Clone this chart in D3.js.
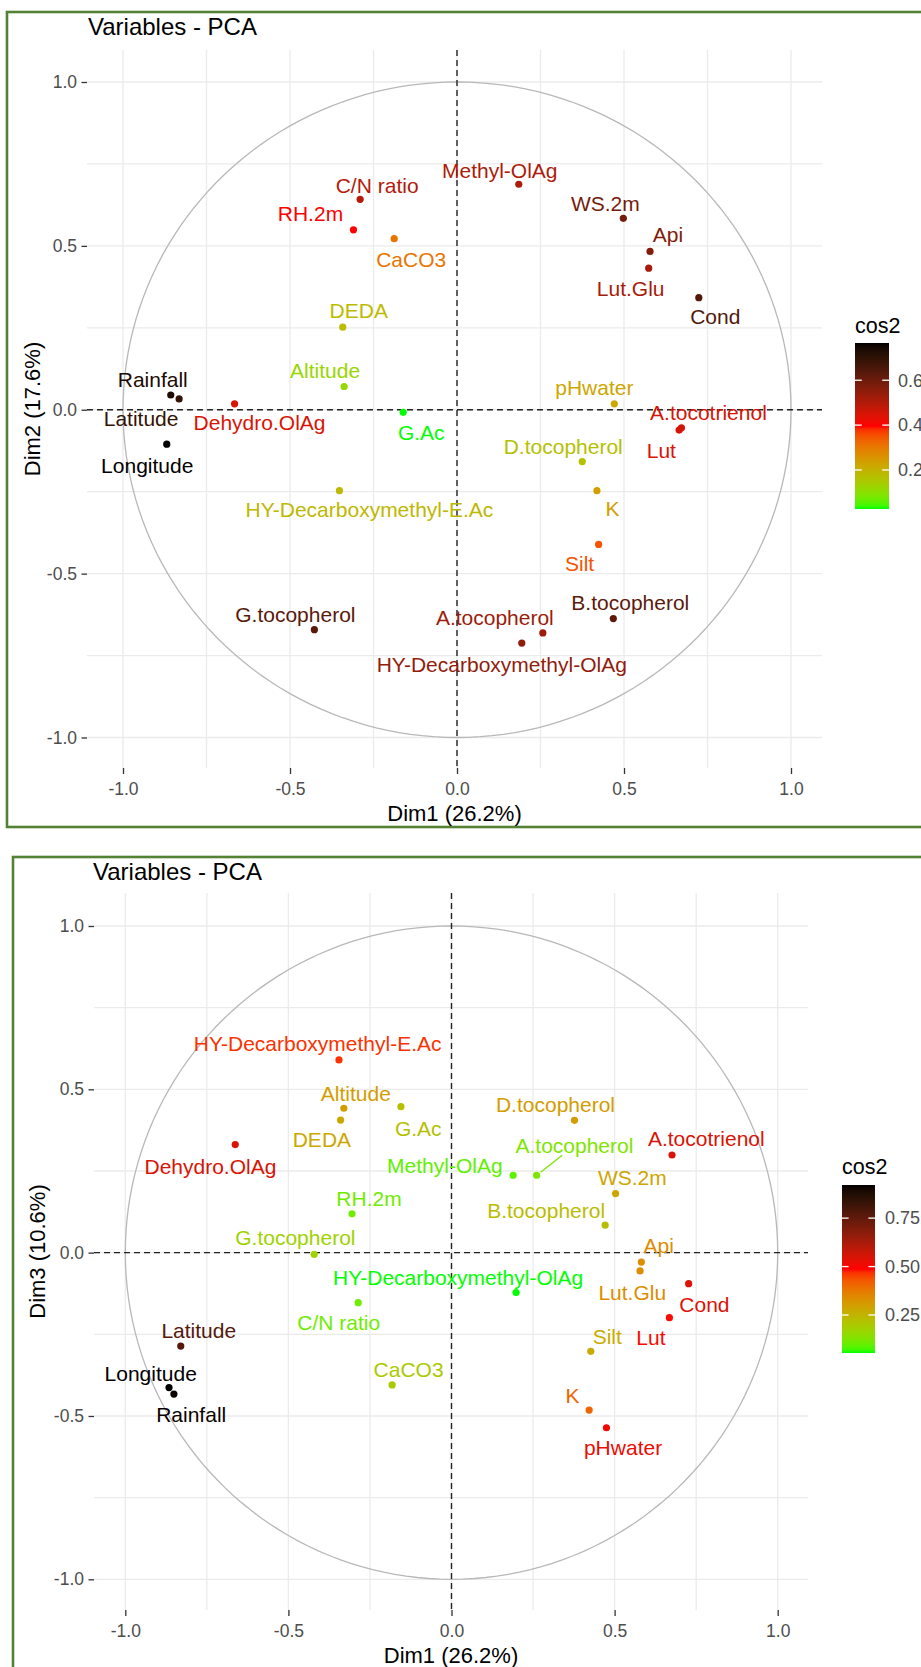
<!DOCTYPE html>
<html>
<head>
<meta charset="utf-8">
<script src="https://cdn.jsdelivr.net/npm/d3@7"></script>
<style>
  html, body { margin: 0; padding: 0; background: #fff; }
  svg { display: block; }
  text { font-family: "Liberation Sans", Arial, Helvetica, sans-serif; }
</style>
</head>
<body>
<svg id="chart" width="921" height="1667"></svg>
<script>
// ---------------- DATA ----------------
const variables = ["C/N ratio","RH.2m","CaCO3","DEDA","Altitude","Rainfall","Latitude","Dehydro.OlAg","G.Ac","Longitude",
  "HY-Decarboxymethyl-E.Ac","G.tocopherol","A.tocopherol","HY-Decarboxymethyl-OlAg","B.tocopherol","Silt","K","D.tocopherol",
  "Lut","A.tocotrienol","pHwater","Cond","Lut.Glu","Api","WS.2m","Methyl-OlAg"];

// Panel 1: Dim1 vs Dim2
const dim1_p1 = [-0.290,-0.310,-0.188,-0.342,-0.338,-0.857,-0.832,-0.666,-0.161,-0.869,
  -0.352,-0.427,0.257,0.194,0.468,0.424,0.419,0.375,0.665,0.672,0.471,0.724,0.574,0.578,0.498,0.185];
const dim2_p1 = [0.642,0.549,0.522,0.252,0.071,0.045,0.033,0.018,-0.008,-0.105,
  -0.247,-0.671,-0.681,-0.712,-0.637,-0.411,-0.247,-0.158,-0.062,-0.055,0.018,0.342,0.432,0.483,0.584,0.688];
const cos2_p1 = [0.496,0.397,0.307,0.180,0.119,0.736,0.693,0.444,0.026,0.766,
  0.185,0.632,0.530,0.545,0.625,0.349,0.237,0.166,0.446,0.455,0.222,0.641,0.516,0.567,0.589,0.507];

// Panel 2: Dim1 vs Dim3
const dim1_p2 = [-0.286,-0.305,-0.182,-0.340,-0.330,-0.851,-0.830,-0.663,-0.155,-0.866,
  -0.345,-0.421,0.261,0.198,0.471,0.427,0.422,0.377,0.668,0.676,0.475,0.727,0.578,0.582,0.503,0.189];
const dim3_p2 = [-0.153,0.119,-0.405,0.406,0.442,-0.433,-0.286,0.331,0.447,-0.413,
  0.590,-0.005,0.237,-0.122,0.084,-0.302,-0.482,0.405,-0.199,0.299,-0.536,-0.095,-0.056,-0.029,0.181,0.237];
const cos2_p2 = [0.105,0.107,0.197,0.281,0.304,0.912,0.771,0.549,0.224,0.921,
  0.467,0.177,0.124,0.054,0.229,0.273,0.410,0.306,0.486,0.546,0.513,0.538,0.337,0.339,0.286,0.092];

// Axis ticks / labels
const axisTicks = [-1, -0.5, 0, 0.5, 1];
const axisTickLabels = ["-1.0","-0.5","0.0","0.5","1.0"];
const gridBreaks = [-1,-0.75,-0.5,-0.25,0,0.25,0.5,0.75,1];
const legendTicks_p1 = [0.2, 0.4, 0.6];
const legendTickLabels_p1 = ["0.2","0.4","0.6"];
const legendTicks_p2 = [0.25, 0.5, 0.75];
const legendTickLabels_p2 = ["0.25","0.50","0.75"];
const gradientCols = ["#00FF00", "#FF0000", "#000000"];

// ---------------- LAYOUT (label repel offsets in px, not data) ----------------
const labelNudge_p1 = [[17,-14],[-43,-16],[17,21],[16,-17],[-19,-16],[-18,-15],[-38,20],[25,19],[18,20],[-19.5,21],
  [30,19],[-19,-15],[-48,-15],[-20,22],[17,-16],[-19,19],[15.5,18],[-19,-15],[-17.8,20.7],[27,-15.3],
  [-20,-16],[16.5,19],[-18,20],[18,-17],[-18,-15],[-19,-14]];
const labelNudge_p2 = [[-19.5,20],[17,-15],[16.5,-15],[-18.7,20],[12,-15],[17.3,21],[18,-15.7],[-24.8,22],[17.3,21.7],[-18.3,-14.3],
  [-21.3,-16.7],[-18.8,-16.7],[37.8,-29.3],[-58,-15],[-59,-15],[16.5,-14.7],[-16.6,-14],[-19,-16],[-18.5,20],[34.3,-16.7],
  [16.6,20],[15.8,20.7],[-7.8,21.6],[17.3,-16],[16.8,-16.3],[-68.3,-9.3]];
const segmentFlags_p2 = variables.map(v => v === "A.tocopherol");

const panels = [
  { frame: {x:7, y:12, w:940, h:815}, title: "Variables - PCA", titleX: 88, titleY: 27,
    xRange: [123, 791], yRange: [737.5, 82], panel: {x0:87, x1:822, y0:50, y1:768},
    xs: dim1_p1, ys: dim2_p1, cos2: cos2_p1, nudge: labelNudge_p1, seg: variables.map(()=>false),
    xTitle: "Dim1 (26.2%)", yTitle: "Dim2 (17.6%)", xTitleY: 813, yTitleX: 32, tickLabelY: 789,
    legend: {x:855, y0:343, y1:509, w:34, titleY:325, labelX:898, ticks: legendTicks_p1, labels: legendTickLabels_p1} },
  { frame: {x:13, y:857, w:940, h:830}, title: "Variables - PCA", titleX: 93, titleY: 872,
    xRange: [125.3, 777.7], yRange: [1579.3, 926], panel: {x0:94, x1:808, y0:893, y1:1610},
    xs: dim1_p2, ys: dim3_p2, cos2: cos2_p2, nudge: labelNudge_p2, seg: segmentFlags_p2,
    xTitle: "Dim1 (26.2%)", yTitle: "Dim3 (10.6%)", xTitleY: 1655, yTitleX: 37, tickLabelY: 1630.5,
    legend: {x:842, y0:1185, y1:1353, w:33, titleY:1166, labelX:885, ticks: legendTicks_p2, labels: legendTickLabels_p2} }
];

const svg = d3.select("#chart");
const defs = svg.append("defs");

panels.forEach((P, pi) => {
  const g = svg.append("g");
  // frame
  g.append("rect").attr("x", P.frame.x).attr("y", P.frame.y).attr("width", P.frame.w).attr("height", P.frame.h)
    .attr("fill", "none").attr("stroke", "#548235").attr("stroke-width", 2.6);

  const x = d3.scaleLinear().domain([-1, 1]).range(P.xRange);
  const y = d3.scaleLinear().domain([-1, 1]).range(P.yRange);
  const [cmin, cmax] = d3.extent(P.cos2);
  const color = d3.scaleLinear().domain([cmin, (cmin + cmax) / 2, cmax]).range(gradientCols).interpolate(d3.interpolateLab);

  // grid
  const grid = g.append("g");
  gridBreaks.forEach(b => {
    grid.append("line").attr("x1", x(b)).attr("x2", x(b)).attr("y1", P.panel.y0).attr("y2", P.panel.y1)
      .attr("stroke", "#ebebeb").attr("stroke-width", 1.3);
    grid.append("line").attr("y1", y(b)).attr("y2", y(b)).attr("x1", P.panel.x0).attr("x2", P.panel.x1)
      .attr("stroke", "#ebebeb").attr("stroke-width", 1.3);
  });

  // axes ticks and labels
  const yAxis = d3.axisLeft(y).tickValues(axisTicks).tickFormat((d, i) => axisTickLabels[i]).tickSize(5.5).tickPadding(4.5);
  const ya = g.append("g").attr("transform", `translate(${P.panel.x0},0)`).call(yAxis);
  const xAxis = d3.axisBottom(x).tickValues(axisTicks).tickFormat((d, i) => axisTickLabels[i]).tickSize(6).tickPadding(4);
  const xa = g.append("g").attr("transform", `translate(0,${P.panel.y1})`).call(xAxis);
  [ya, xa].forEach(a => {
    a.select(".domain").remove();
    a.selectAll(".tick line").attr("stroke", "#333333").attr("stroke-width", 1.3);
    a.selectAll(".tick text").attr("fill", "#4d4d4d").style("font-size", "17.5px")
      .style("font-family", '"Liberation Sans", Arial, sans-serif');
  });
  xa.selectAll(".tick text").attr("y", null).attr("dy", null)
    .attr("y", P.tickLabelY - P.panel.y1).attr("dy", "0.35em");

  // circle
  const circPts = d3.range(0, 361, 2).map(a => [Math.cos(a * Math.PI / 180), Math.sin(a * Math.PI / 180)]);
  g.append("path").datum(circPts)
    .attr("d", d3.line().x(d => x(d[0])).y(d => y(d[1])))
    .attr("fill", "none").attr("stroke", "#b8b8b8").attr("stroke-width", 1.3);

  // dashed zero lines
  g.append("line").attr("x1", P.panel.x0).attr("x2", P.panel.x1).attr("y1", y(0)).attr("y2", y(0))
    .attr("stroke", "#222").attr("stroke-width", 1.4).attr("stroke-dasharray", "6,4");
  g.append("line").attr("y1", P.panel.y0).attr("y2", P.panel.y1).attr("x1", x(0)).attr("x2", x(0))
    .attr("stroke", "#222").attr("stroke-width", 1.4).attr("stroke-dasharray", "6,4");

  const data = variables.map((v, i) => ({name: v, x: P.xs[i], y: P.ys[i], c: P.cos2[i], nd: P.nudge[i], seg: P.seg[i]}));

  // points
  g.append("g").selectAll("circle").data(data).join("circle")
    .attr("cx", d => x(d.x)).attr("cy", d => y(d.y)).attr("r", 3.6)
    .attr("fill", d => color(d.c));

  // labels
  const lab = g.append("g").selectAll("text").data(data).join("text")
    .attr("x", d => x(d.x) + d.nd[0]).attr("y", d => y(d.y) + d.nd[1])
    .attr("dy", "0.35em").attr("text-anchor", "middle")
    .style("font-size", "21px").attr("fill", d => color(d.c))
    .text(d => d.name);

  // repel segments
  lab.filter(d => d.seg).each(function(d) {
    const bb = this.getBBox();
    const px = x(d.x), py = y(d.y);
    const cx = bb.x + bb.width / 2, cy = bb.y + bb.height / 2;
    const dx = cx - px, dy = cy - py;
    const hh = bb.height / 2 - 2, hw = bb.width / 2;
    const t = Math.min(Math.abs(hh / dy), Math.abs(hw / dx));
    const ex = cx - dx * t, ey = cy - dy * t;
    const s = 5 / Math.hypot(dx, dy);
    g.append("line").attr("x1", px + dx * s).attr("y1", py + dy * s).attr("x2", ex).attr("y2", ey)
      .attr("stroke", color(d.c)).attr("stroke-width", 1.3);
  });

  // title
  g.append("text").attr("x", P.titleX).attr("y", P.titleY).attr("dy", "0.35em")
    .style("font-size", "24px").attr("fill", "#000").text(P.title);

  // axis titles
  g.append("text").attr("x", (P.panel.x0 + P.panel.x1) / 2).attr("y", P.xTitleY).attr("dy", "0.35em")
    .attr("text-anchor", "middle").style("font-size", "22px").attr("fill", "#000").text(P.xTitle);
  g.append("text").attr("transform", `translate(${P.yTitleX},${(P.panel.y0 + P.panel.y1) / 2}) rotate(-90)`)
    .attr("dy", "0.35em").attr("text-anchor", "middle").style("font-size", "22px").attr("fill", "#000").text(P.yTitle);

  // legend
  const L = P.legend;
  const ly = d3.scaleLinear().domain([cmin, cmax]).range([L.y1, L.y0]);
  const gid = "grad" + pi;
  const grad = defs.append("linearGradient").attr("id", gid).attr("x1", 0).attr("y1", 1).attr("x2", 0).attr("y2", 0);
  d3.range(0, 1.0001, 0.02).forEach(t => {
    grad.append("stop").attr("offset", t).attr("stop-color", color(cmin + t * (cmax - cmin)));
  });
  g.append("text").attr("x", L.x).attr("y", L.titleY).attr("dy", "0.35em").style("font-size", "21.5px")
    .attr("fill", "#000").text("cos2");
  g.append("rect").attr("x", L.x).attr("y", L.y0).attr("width", L.w).attr("height", L.y1 - L.y0)
    .attr("fill", `url(#${gid})`);
  L.ticks.forEach((t, i) => {
    const yy = ly(t);
    g.append("line").attr("x1", L.x).attr("x2", L.x + L.w / 5).attr("y1", yy).attr("y2", yy)
      .attr("stroke", "#fff").attr("stroke-width", 1.3);
    g.append("line").attr("x1", L.x + L.w - L.w / 5).attr("x2", L.x + L.w).attr("y1", yy).attr("y2", yy)
      .attr("stroke", "#fff").attr("stroke-width", 1.3);
    g.append("text").attr("x", L.labelX).attr("y", yy).attr("dy", "0.35em").style("font-size", "18px")
      .attr("fill", "#4d4d4d").text(L.labels[i]);
  });
});
</script>
</body>
</html>
